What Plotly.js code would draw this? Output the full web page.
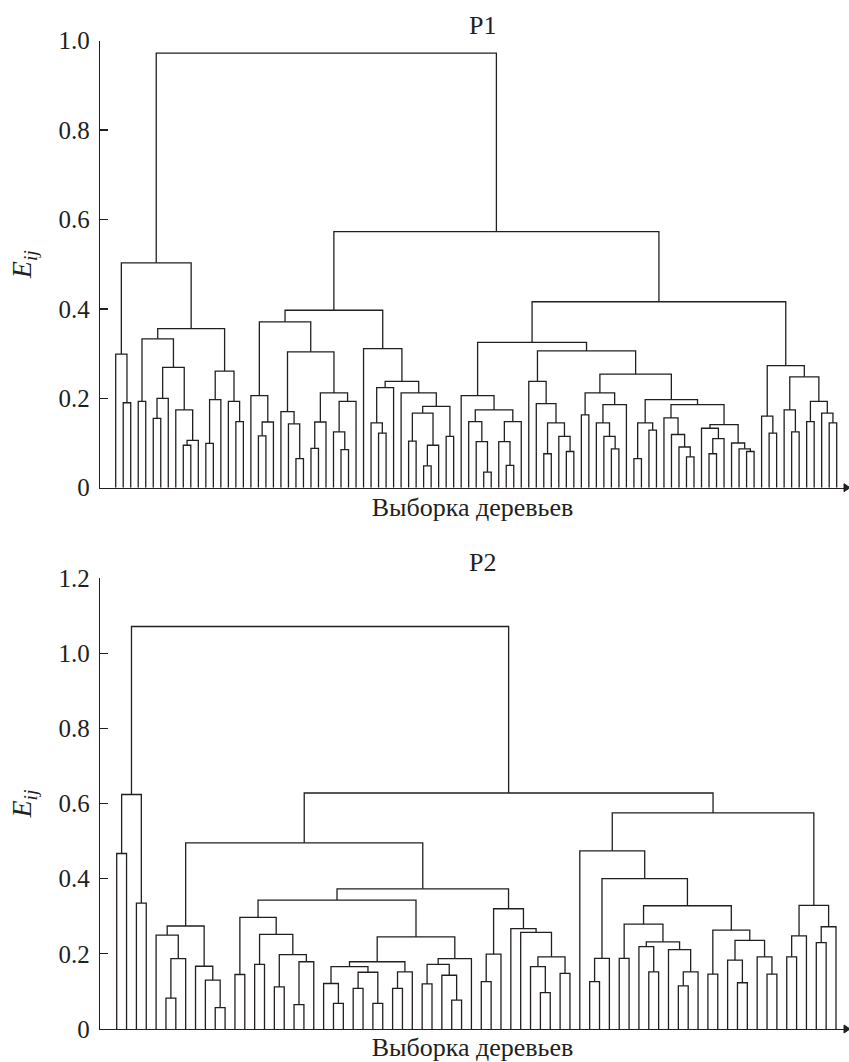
<!DOCTYPE html>
<html>
<head>
<meta charset="utf-8">
<script src="https://cdn.plot.ly/plotly-3.0.1.min.js"></script>
<style>
  html, body { margin: 0; padding: 0; background: #fff; }
  #chart { width: 849px; height: 1062px; }
</style>
</head>
<body>
<div id="chart"></div>
<script>
// ---------------- DATA ----------------
// Dendrogram trees.
// A node is [mergeHeight (E_ij), leftChild, rightChild]; a leaf (one tree) is 0.
const titles = ['P1', 'P2'];
const xAxisTitle = 'Выборка деревьев';
const yAxisTitle = '<i>E</i><sub><i>ij</i></sub>';

const p1TickVals = [0, 0.2, 0.4, 0.6, 0.8, 1.0];
const p1TickText = ['0', '0.2', '0.4', '0.6', '0.8', '1.0'];
const p2TickVals = [0, 0.2, 0.4, 0.6, 0.8, 1.0, 1.2];
const p2TickText = ['0', '0.2', '0.4', '0.6', '0.8', '1.0', '1.2'];

// P1 (97 trees)
const p1ClusterA = [0.503,
  [0.299, 0, [0.19, 0, 0]],
  [0.356,
    [0.333, [0.193, 0, 0], [0.269, [0.2, [0.155, 0, 0], 0], [0.174, 0, [0.106, [0.095, 0, 0], 0]]]],
    [0.261, [0.197, [0.099, 0, 0], 0], [0.193, 0, [0.148, 0, 0]]]]];
const p1ClusterB1 = [0.397,
  [0.371,
    [0.206, 0, [0.147, [0.116, 0, 0], 0]],
    [0.304,
      [0.17, 0, [0.143, 0, [0.065, 0, 0]]],
      [0.212, [0.147, [0.088, 0, 0], 0], [0.193, [0.125, 0, [0.085, 0, 0]], 0]]]],
  [0.311, 0,
    [0.238,
      [0.224, [0.145, 0, [0.122, 0, 0]], 0],
      [0.212, 0, [0.182, [0.167, [0.104, 0, 0], [0.095, [0.049, 0, 0], 0]], [0.115, 0, 0]]]]]];
const p1ClusterB2 = [0.416,
  [0.325,
    [0.206, 0, [0.174, [0.148, 0, [0.103, 0, [0.035, 0, 0]]], [0.148, [0.103, 0, [0.05, 0, 0]], 0]]],
    [0.306,
      [0.238, 0, [0.188, 0, [0.145, [0.076, 0, 0], [0.115, 0, [0.081, 0, 0]]]]],
      [0.254,
        [0.212, [0.163, 0, 0], [0.186, [0.145, 0, [0.115, 0, [0.087, 0, 0]]], 0]],
        [0.197,
          [0.145, [0.065, 0, 0], [0.129, 0, 0]],
          [0.186,
            [0.156, 0, [0.119, 0, [0.091, 0, [0.069, 0, 0]]]],
            [0.141, [0.133, 0, [0.110, [0.076, 0, 0], 0]], [0.1, 0, [0.087, 0, [0.081, 0, 0]]]]]]]]],
  [0.273,
    [0.160, 0, [0.122, 0, 0]],
    [0.248, [0.174, 0, [0.125, 0, 0]], [0.193, [0.148, 0, 0], [0.167, 0, [0.145, 0, 0]]]]]];
const p1Tree = [0.972, p1ClusterA, [0.573, p1ClusterB1, p1ClusterB2]];

// P2 (74 trees)
const p2ClusterL = [0.624, [0.467, 0, 0], [0.335, 0, 0]];
const p2ClusterR1 = [0.495,
  [0.274, [0.25, 0, [0.187, [0.082, 0, 0], 0]], [0.167, 0, [0.13, 0, [0.057, 0, 0]]]],
  [0.373,
    [0.343,
      [0.297, [0.145, 0, 0], [0.252, [0.172, 0, 0], [0.198, [0.112, 0, 0], [0.179, [0.065, 0, 0], 0]]]],
      [0.245,
        [0.179,
          [0.166, [0.121, 0, [0.068, 0, 0]], [0.151, [0.108, 0, 0], [0.068, 0, 0]]],
          [0.152, [0.108, 0, 0], 0]],
        [0.187, [0.172, [0.12, 0, 0], [0.143, 0, [0.077, 0, 0]]], 0]]],
    [0.32,
      [0.199, [0.126, 0, 0], 0],
      [0.267, 0, [0.257, 0, [0.192, [0.166, 0, [0.097, 0, 0]], [0.148, 0, 0]]]]]]];
const p2ClusterR2 = [0.575,
  [0.474, 0,
    [0.4,
      [0.188, [0.126, 0, 0], 0],
      [0.328,
        [0.279, [0.188, 0, 0], [0.232, [0.219, 0, [0.152, 0, 0]], [0.211, 0, [0.152, [0.115, 0, 0], 0]]]],
        [0.263, [0.146, 0, 0], [0.236, [0.183, 0, [0.123, 0, 0]], [0.192, 0, [0.146, 0, 0]]]]]]],
  [0.329, [0.248, [0.192, 0, 0], 0], [0.272, [0.23, 0, 0], 0]]];
const p2Tree = [1.071, p2ClusterL, [0.628, p2ClusterR1, p2ClusterR2]];

// ---------------- BUILD ----------------
function dendroSegments(tree) {
  const xs = [], ys = [];
  let leaf = 0;
  function walk(node) {
    if (!Array.isArray(node)) { return { x: leaf++, h: 0 }; }
    const h = node[0];
    const a = walk(node[1]);
    const b = walk(node[2]);
    xs.push(a.x, a.x, b.x, b.x, null);
    ys.push(a.h, h, h, b.h, null);
    return { x: (a.x + b.x) / 2, h: h };
  }
  walk(tree);
  return { x: xs, y: ys, n: leaf };
}

const W = 849, H = 1062;
const fx = p => p / W;
const fy = p => 1 - p / H;
const FONT = '"Liberation Serif", "Times New Roman", Times, serif';
const INK = '#231f20';

const d1 = dendroSegments(p1Tree);
const d2 = dendroSegments(p2Tree);

// pixel geometry of the two panels
const P = [
  { top: 40.7, bottom: 487.7, firstLeaf: 115.7, lastLeaf: 836.7, n: d1.n, ymax: 1.0 },
  { top: 578, bottom: 1029, firstLeaf: 116.7, lastLeaf: 836.0, n: d2.n, ymax: 1.2 }
];
const AX_L = 100, AX_R = 845;
function xRange(p) {
  const step = (p.lastLeaf - p.firstLeaf) / (p.n - 1);
  return [(AX_L - p.firstLeaf) / step, (AX_R - p.firstLeaf) / step];
}

const traces = [
  { x: d1.x, y: d1.y, xaxis: 'x', yaxis: 'y', mode: 'lines', type: 'scatter',
    line: { color: INK, width: 1.3 }, hoverinfo: 'skip', showlegend: false },
  { x: d2.x, y: d2.y, xaxis: 'x2', yaxis: 'y2', mode: 'lines', type: 'scatter',
    line: { color: INK, width: 1.3 }, hoverinfo: 'skip', showlegend: false }
];

function xAxis(p) {
  return {
    domain: [fx(AX_L), fx(AX_R)], range: xRange(p), showline: true, linecolor: INK, linewidth: 1.3,
    showgrid: false, zeroline: false, showticklabels: false, ticks: '', fixedrange: true,
    title: { text: xAxisTitle, font: { family: FONT, size: 26, color: INK }, standoff: 9 }
  };
}
function yAxis(p, tv, tt, anchor) {
  return {
    domain: [fy(p.bottom), fy(p.top)], range: [0, p.ymax], anchor: anchor,
    showline: true, linecolor: INK, linewidth: 1.3, showgrid: false, zeroline: false,
    ticks: 'inside', ticklen: 8, tickwidth: 1.3, tickcolor: INK,
    tickvals: tv, ticktext: tt, ticklabelstandoff: 4,
    tickfont: { family: FONT, size: 25, color: INK },
    title: { text: yAxisTitle, font: { family: FONT, size: 28, color: INK }, standoff: 18 }
  };
}

function arrowPath(p) {
  const x0 = fx(AX_R - 1), x1 = fx(AX_R + 5), yb = fy(p.bottom), dy = 4 / H;
  return { type: 'path', xref: 'paper', yref: 'paper',
    path: `M ${x0} ${yb + dy} L ${x1} ${yb} L ${x0} ${yb - dy} Z`,
    fillcolor: INK, line: { color: INK, width: 1 } };
}

const layout = {
  width: W, height: H,
  margin: { l: 0, r: 0, t: 0, b: 0 },
  paper_bgcolor: '#fff', plot_bgcolor: '#fff',
  showlegend: false,
  font: { family: FONT, color: INK },
  xaxis: Object.assign(xAxis(P[0]), { anchor: 'y' }),
  yaxis: yAxis(P[0], p1TickVals, p1TickText, 'x'),
  xaxis2: Object.assign(xAxis(P[1]), { anchor: 'y2' }),
  yaxis2: yAxis(P[1], p2TickVals, p2TickText, 'x2'),
  annotations: [
    { text: titles[0], xref: 'paper', yref: 'paper', x: fx(482), y: fy(25), showarrow: false,
      xanchor: 'center', yanchor: 'middle', font: { family: FONT, size: 26, color: INK } },
    { text: titles[1], xref: 'paper', yref: 'paper', x: fx(482), y: fy(562), showarrow: false,
      xanchor: 'center', yanchor: 'middle', font: { family: FONT, size: 26, color: INK } }
  ],
  shapes: [arrowPath(P[0]), arrowPath(P[1])]
};

Plotly.newPlot('chart', traces, layout, { displayModeBar: false, staticPlot: true });
</script>
</body>
</html>
